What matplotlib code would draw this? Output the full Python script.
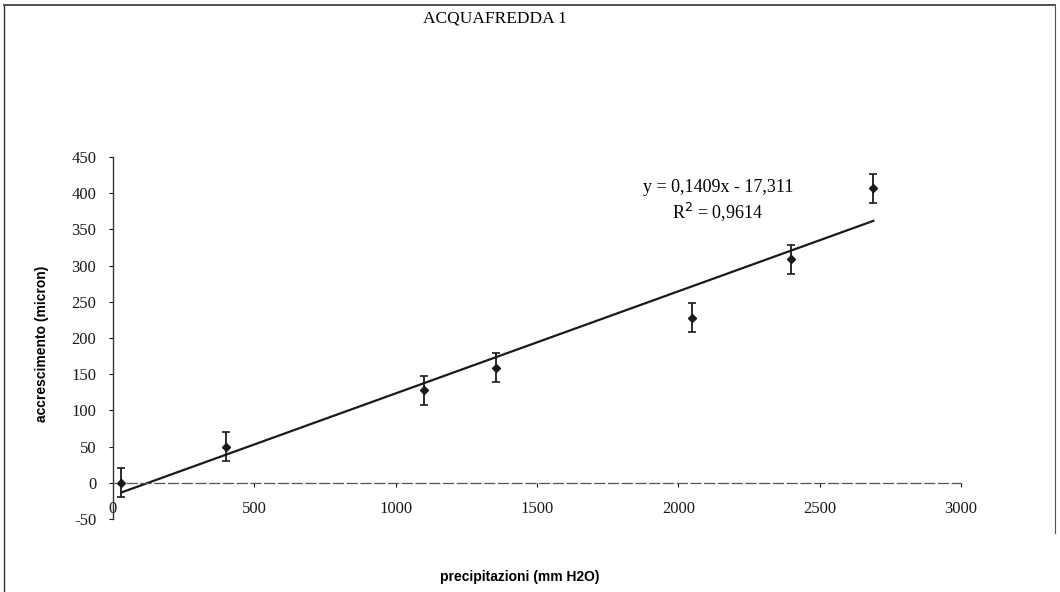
import matplotlib
matplotlib.use("Agg")
import matplotlib.pyplot as plt
from matplotlib.lines import Line2D

# data
precip = [29, 400, 1100, 1356, 2050, 2400, 2690]
growth = [0, 50, 128, 159, 228, 309, 407]
err = [20, 20, 20, 20, 20, 20, 20]

# trend line as printed on the chart
slope = 0.1409
intercept = -17.311
r2 = 0.9614

xticks = [0, 500, 1000, 1500, 2000, 2500, 3000]
yticks = [-50, 0, 50, 100, 150, 200, 250, 300, 350, 400, 450]

serif = "Liberation Serif"
narrow = ["Liberation Sans Narrow", "Liberation Sans", "DejaVu Sans"]

fig = plt.figure(figsize=(10.6, 5.92), dpi=100)
ax = fig.add_axes([0.1066, 0.123, 0.8, 0.612])

ax.errorbar(precip, growth, yerr=err, fmt="D", color="#1a1a1a", ms=4.5,
            ecolor="#1a1a1a", elinewidth=1.3, capsize=3, capthick=1.2, zorder=3)

xs = [precip[0], precip[-1]]
ax.plot(xs, [slope * x + intercept for x in xs], color="#1a1a1a", lw=1.6, zorder=2)

ax.set_xlim(0, 3000)
ax.set_ylim(-50, 450)
ax.set_xticks(xticks)
ax.set_yticks(yticks)
ax.set_yticklabels([str(v).replace("-", "-") for v in yticks])

ax.spines["top"].set_visible(False)
ax.spines["right"].set_visible(False)
ax.spines["bottom"].set_position(("data", 0))
ax.spines["bottom"].set_color("#555555")
ax.spines["bottom"].set_linestyle((0, (8, 3)))
ax.spines["bottom"].set_linewidth(0.9)
ax.spines["left"].set_color("#333333")
ax.spines["left"].set_linewidth(1.0)

ax.tick_params(axis="y", direction="out", length=3, width=0.8, pad=9,
               labelsize=12, colors="#1a1a1a")
ax.tick_params(axis="x", direction="out", length=3, width=0.8, pad=10,
               labelsize=12, colors="#1a1a1a")
for lab in ax.get_xticklabels() + ax.get_yticklabels():
    lab.set_family(serif)

eq = "y = " + f"{slope:.4f}".replace(".", ",") + "x - " + f"{-intercept:.3f}".replace(".", ",")
ax.text(2140, 408, eq, family=serif, fontsize=13, ha="center", va="center")
ax.text(2140, 374, "R$^2$ = " + f"{r2:.4f}".replace(".", ","), family=serif,
        fontsize=13, ha="center", va="center")

fig.text(0.467, 0.968, "ACQUAFREDDA 1", family=serif, fontsize=12.5,
         ha="center", va="center")
fig.text(0.04, 0.42, "accrescimento (micron)", family=narrow, fontweight="bold",
         fontsize=10, rotation=90, ha="center", va="center")
fig.text(0.49, 0.025, "precipitazioni (mm H2O)", family=narrow, fontweight="bold",
         fontsize=10, ha="center", va="center")

# outer frame of the scanned chart area
fig.add_artist(Line2D([0.004, 0.995], [0.991, 0.991], color="#333333", lw=1.2))
fig.add_artist(Line2D([0.004, 0.004], [0.0, 0.991], color="#333333", lw=1.0))
fig.add_artist(Line2D([0.995, 0.995], [0.10, 0.991], color="#555555", lw=0.8))

fig.savefig("out.png", dpi=100)
